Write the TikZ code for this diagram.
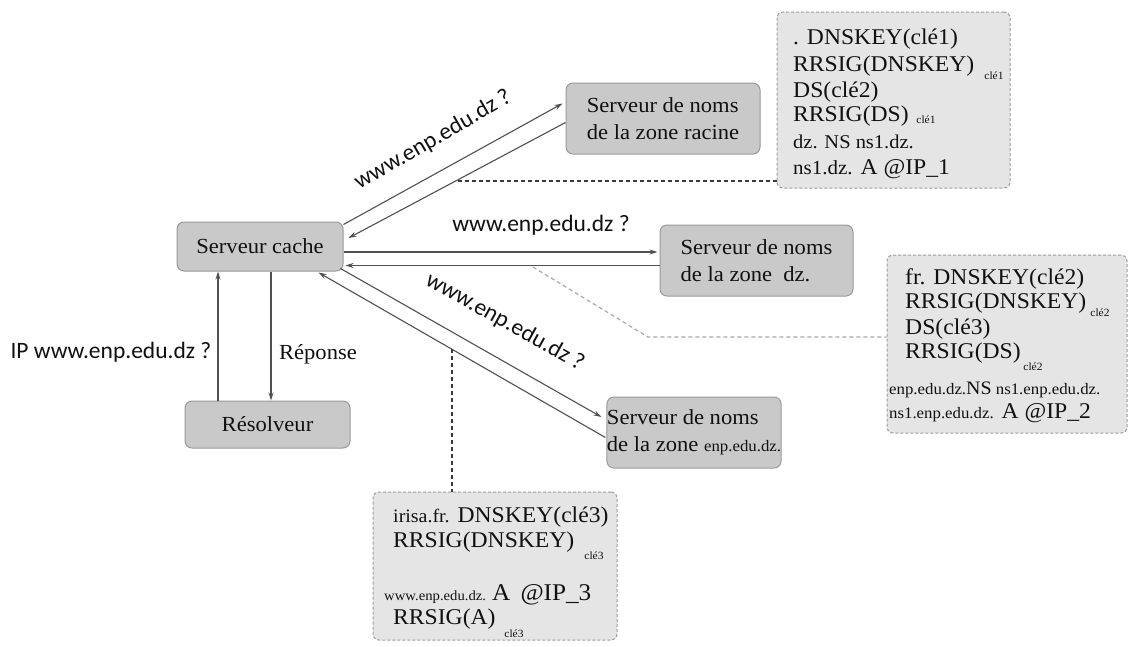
\documentclass[tikz,border=0pt]{standalone}
\usepackage{fontspec}
\setmainfont{Liberation Serif}[FakeStretch=1.05]
\newfontfamily\labfont{Carlito}
\usetikzlibrary{arrows.meta,calc}

\definecolor{srvfill}{HTML}{C9C9C9}
\definecolor{srvline}{HTML}{9A9A9A}
\definecolor{infofill}{HTML}{E5E5E5}
\definecolor{infoline}{HTML}{9C9C9C}
\definecolor{flowcol}{HTML}{505050}
\definecolor{txtcol}{HTML}{111111}
\definecolor{lightdash}{HTML}{A8A8A8}
\definecolor{darkdash}{HTML}{3A3A3A}

\newcommand\fsz[1]{\fontsize{#1}{#1}\selectfont}

\begin{document}
\begin{tikzpicture}[x=1pt,y=-1pt,
  srv/.style={draw=srvline, fill=srvfill, rounded corners=7pt, line width=1pt,
    inner sep=0pt, align=left, text=txtcol, font=\fontsize{21.5}{27}\selectfont},
  info/.style={draw=infoline, fill=infofill, rounded corners=6pt, line width=1pt,
    dash pattern=on 3pt off 2pt, inner sep=0pt},
  rec/.style={anchor=base west, inner sep=0pt, text=txtcol, font=\fsz{22.5}},
  keysub/.style={anchor=center, inner sep=0pt, text=txtcol, font=\fsz{11}},
  flow/.style={draw=flowcol, line width=1.1pt, -{Stealth[length=8pt,width=5pt]}},
  query/.style={inner sep=0pt, text=txtcol, font=\labfont\fsz{23.5}},
  darklink/.style={draw=darkdash, line width=1.2pt, dash pattern=on 4pt off 3pt},
  lightlink/.style={draw=lightdash, line width=1.2pt, dash pattern=on 4pt off 3pt}]

\path[use as bounding box, fill=white] (0,0) rectangle (1135,646);

% servers
\node[srv, minimum width=166pt, minimum height=49pt] (cache) at (260,246.5) {Serveur cache};
\node[srv, minimum width=194pt, minimum height=71pt] (root) at (663,118.5)
  {Serveur de noms\\de la zone racine};
\node[srv, minimum width=193pt, minimum height=71pt] (dz) at (756.5,260.5)
  {Serveur de noms\\de la zone\ \ dz.};
\node[srv, minimum width=171pt, minimum height=71pt] (enp) at (694,432.5)
  {Serveur de noms\\de la zone {\fsz{16}enp.edu.dz.}};
\node[srv, minimum width=165pt, minimum height=47pt] (res) at (267.5,424.5) {Résolveur};

% record boxes
\node[info, minimum width=233pt, minimum height=176pt] (box1) at (893.5,100) {};
\node[info, minimum width=240pt, minimum height=178pt] (box2) at (1007,344) {};
\node[info, minimum width=244pt, minimum height=148pt] (box3) at (495,566) {};

% records of the root zone
\node[rec] (r11) at (793,44) {. DNSKEY(clé1)};
\node[rec] (r12) at (793,71) {RRSIG(DNSKEY)};
\node[keysub] (s11) at (994,76) {clé1};
\node[rec] (r13) at (793,97) {DS(clé2)};
\node[rec] (r14) at (793,121) {RRSIG(DS)};
\node[keysub] (s12) at (926,120) {clé1};
\node[rec, font=\fsz{19.5}] (r15) at (793,148) {dz. NS ns1.dz.};
\node[rec] (r16) at (793,174) {{\fsz{20}ns1.dz.} A @IP\_1};

% records of the dz. zone
\node[rec] (r21) at (905,284) {fr. DNSKEY(clé2)};
\node[rec] (r22) at (905,308) {RRSIG(DNSKEY)};
\node[keysub] (s21) at (1100,313) {clé2};
\node[rec] (r23) at (905,334) {DS(clé3)};
\node[rec] (r24) at (905,358) {RRSIG(DS)};
\node[keysub] (s22) at (1033,367) {clé2};
\node[rec, font=\fsz{16}] (r25) at (889,394) {enp.edu.dz.{\fsz{19}NS} ns1.enp.edu.dz.};
\node[rec] (r26) at (889,418) {{\fsz{16}ns1.enp.edu.dz.} A @IP\_2};

% records of the enp.edu.dz. zone
\node[rec] (r31) at (393,522) {{\fsz{19}irisa.fr.} DNSKEY(clé3)};
\node[rec] (r32) at (393,547) {RRSIG(DNSKEY)};
\node[keysub] (s31) at (594,556) {clé3};
\node[rec] (r33) at (384,600) {{\fsz{14}www.enp.edu.dz.}\ {\fsz{24}A\, @IP\_3}};
\node[rec] (r34) at (393,624) {RRSIG(A)};
\node[keysub] (s32) at (514,634) {clé3};

% cache <-> root
\draw[flow] ($(cache.north east)+(0,3)$) -- ($(root.west)+(-3,-15)$);
\draw[flow] ($(root.west)+(0,4)$) -- ($(cache.east)+(5,-8.5)$);
% cache <-> dz
\coordinate (q2) at ($(cache.east)+(0,5.5)$);
\draw[flow] (q2) -- ($(q2 -| dz.west)+(-2,0)$);
\coordinate (r2) at ($(dz.west)+(0,5)$);
\draw[flow] (r2) -- ($(r2 -| cache.east)+(2,0)$);
% cache <-> enp.edu.dz
\draw[flow] ($(cache.south east)+(-3,-3)$) -- ($(enp.west)+(-5,-15.5)$);
\draw[flow] ($(enp.west)+(-1,5)$) -- ($(cache.south east)+(-25,1)$);
% resolver <-> cache
\coordinate (up) at ($(res.north)+(-49.5,0)$);
\draw[flow] (up) -- (up |- cache.south);
\coordinate (down) at ($(cache.south)+(11,0)$);
\draw[flow] (down) -- (down |- res.north);

% links to the record boxes
\coordinate (d1) at (458,181);
\draw[darklink] (d1) -- (d1 -| box1.west);
\coordinate (d2) at (533,267);
\coordinate (d2b) at (648,337);
\draw[lightlink] (d2) -- (d2b) -- (d2b -| box2.west);
\coordinate (d3) at (452,349);
\draw[darklink] (d3) -- (d3 |- box3.north);

% labels
\node[query, rotate=30] (l1) at (433,140) {www.enp.edu.dz ?};
\node[query] (l2) at (541,225) {www.enp.edu.dz ?};
\node[query, rotate=-29] (l3) at (505,322) {www.enp.edu.dz ?};
\node[query] (l4) at (111,352) {IP www.enp.edu.dz ?};
\node[inner sep=0pt, font=\fsz{21.5}, text=txtcol] (l5) at (318,354) {Réponse};

\end{tikzpicture}
\end{document}
